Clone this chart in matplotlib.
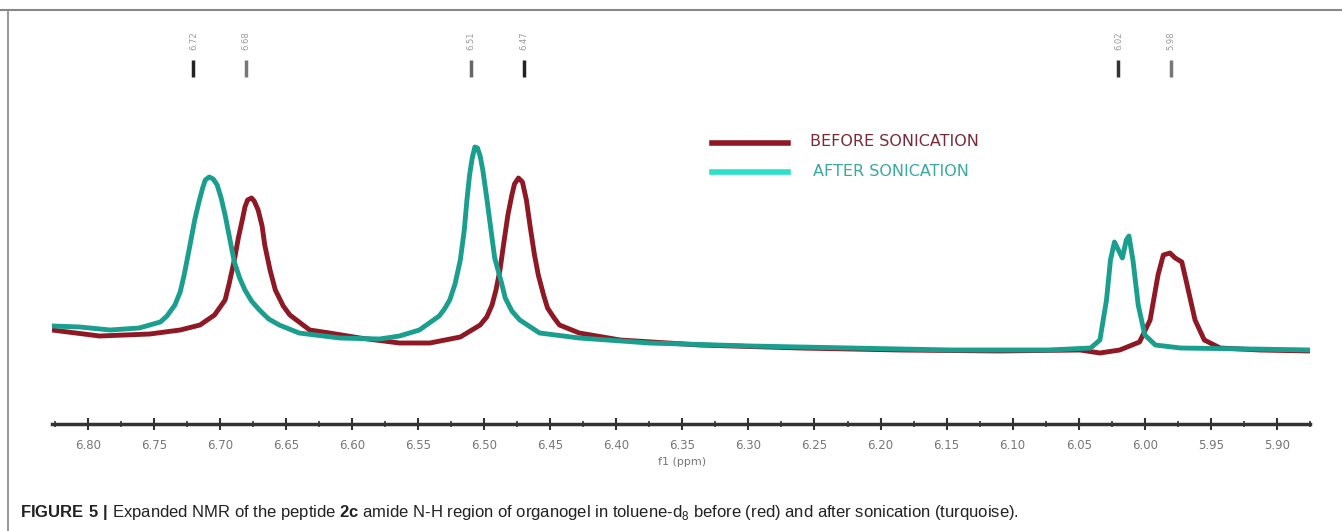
import matplotlib
matplotlib.use("Agg")
import matplotlib.pyplot as plt
from matplotlib.lines import Line2D

# traced spectra (chemical shift in ppm, intensity in arbitrary units)
after_ppm = [6.827, 6.806, 6.783, 6.761, 6.745, 6.740, 6.734, 6.730, 6.727, 6.723,
             6.719, 6.716, 6.713, 6.711, 6.708, 6.705, 6.702, 6.699, 6.696, 6.692,
             6.689, 6.685, 6.681, 6.676, 6.670, 6.663, 6.655, 6.640, 6.609, 6.579,
             6.564, 6.549, 6.534, 6.530, 6.526, 6.522, 6.518, 6.515, 6.513, 6.511,
             6.509, 6.507, 6.505, 6.503, 6.501, 6.498, 6.495, 6.492, 6.487, 6.484,
             6.479, 6.473, 6.458, 6.428, 6.375, 6.299, 6.223, 6.147, 6.072, 6.041,
             6.034, 6.029, 6.026, 6.023, 6.020, 6.017, 6.014, 6.012, 6.009, 6.005,
             6.000, 5.992, 5.973, 5.920, 5.875]
after_int = [24, 23, 20, 22, 28, 34, 45, 58, 75, 102,
             130, 147, 162, 170, 173, 171, 165, 152, 135, 108,
             88, 72, 60, 49, 40, 31, 25, 17, 12, 11,
             14, 20, 34, 41, 50, 66, 90, 120, 150, 175,
             192, 203, 202, 194, 180, 152, 122, 92, 68, 52,
             39, 30, 17, 12, 7, 4, 2, 0, 0, 2,
             10, 50, 90, 108, 100, 92, 110, 114, 90, 45,
             15, 5, 2, 1, 0]

before_ppm = [6.827, 6.791, 6.753, 6.730, 6.715, 6.704, 6.696, 6.693, 6.689, 6.686,
              6.683, 6.681, 6.679, 6.676, 6.674, 6.671, 6.668, 6.666, 6.662, 6.658,
              6.652, 6.647, 6.632, 6.617, 6.594, 6.564, 6.541, 6.518, 6.503, 6.498,
              6.494, 6.491, 6.488, 6.485, 6.482, 6.479, 6.477, 6.474, 6.471, 6.468,
              6.465, 6.462, 6.459, 6.455, 6.452, 6.447, 6.443, 6.428, 6.397, 6.337,
              6.261, 6.185, 6.110, 6.049, 6.034, 6.019, 6.004, 5.996, 5.990, 5.986,
              5.981, 5.977, 5.972, 5.968, 5.962, 5.955, 5.943, 5.913, 5.875]
before_int = [20, 14, 16, 20, 25, 35, 50, 66, 90, 112,
              130, 143, 150, 152, 149, 140, 124, 105, 80, 60,
              44, 35, 20, 17, 12, 7, 7, 13, 25, 33,
              45, 60, 80, 108, 135, 155, 166, 172, 168, 150,
              122, 96, 75, 55, 42, 32, 25, 17, 10, 5,
              2, 0, -1, 0, -3, 0, 8, 30, 75, 95,
              97, 92, 88, 65, 30, 10, 2, 0, -1]

# peak pick labels
peak_ppm = [6.72, 6.68, 6.51, 6.47, 6.02, 5.98]
peak_labels = ["6.72", "6.68", "6.51", "6.47", "6.02", "5.98"]
peak_colors = ["#222222", "#777777", "#666666", "#222222", "#333333", "#777777"]

major_ticks = [6.80, 6.75, 6.70, 6.65, 6.60, 6.55, 6.50, 6.45, 6.40, 6.35,
               6.30, 6.25, 6.20, 6.15, 6.10, 6.05, 6.00, 5.95, 5.90]
minor_ticks = [6.825, 6.775, 6.725, 6.675, 6.625, 6.575, 6.525, 6.475, 6.425, 6.375,
               6.325, 6.275, 6.225, 6.175, 6.125, 6.075, 6.025, 5.975, 5.925, 5.875]

red = "#8e1824"
teal = "#1a9e8e"

fig = plt.figure(figsize=(13.42, 5.31), dpi=100)
ax = fig.add_axes([52 / 1342, 1 - 424 / 531, (1310 - 52) / 1342, (424 - 20) / 531])

ax.plot(before_ppm, before_int, color=red, lw=3.5, solid_joinstyle="round")
ax.plot(after_ppm, after_int, color=teal, lw=3.5, solid_joinstyle="round")

# peak markers at the top
for p, lab, c in zip(peak_ppm, peak_labels, peak_colors):
    ax.plot([p, p], [273, 290], color=c, lw=2.5, solid_capstyle="butt")
    ax.text(p, 309, lab, rotation=90, ha="center", va="center", fontsize=6, color="#999999")

ax.set_xlim(6.827, 5.875)
ax.set_ylim(-74, 330)
for s in ["top", "left", "right"]:
    ax.spines[s].set_visible(False)
ax.spines["bottom"].set_linewidth(2.5)
ax.spines["bottom"].set_color("#333333")
ax.set_yticks([])
ax.set_xticks(major_ticks)
ax.set_xticklabels([f"{t:.2f}" for t in major_ticks])
ax.set_xticks(minor_ticks, minor=True)
ax.tick_params(axis="x", which="major", direction="inout", length=9, width=1.5,
               color="#333333", labelsize=8.5, labelcolor="#777777", pad=6)
ax.tick_params(axis="x", which="minor", direction="inout", length=5, width=1.2, color="#333333")

fig.text(682 / 1342, 1 - 462 / 531, "f1 (ppm)", ha="center", va="center", fontsize=8, color="#777777")

# legend drawn by hand like the original
fig.add_artist(Line2D([712 / 1342, 788 / 1342], [1 - 143 / 531] * 2, transform=fig.transFigure,
                      color=red, lw=4))
fig.add_artist(Line2D([712 / 1342, 788 / 1342], [1 - 172 / 531] * 2, transform=fig.transFigure,
                      color="#2ce0c8", lw=4))
fig.text(810 / 1342, 1 - 142 / 531, "BEFORE SONICATION", ha="left", va="center",
         fontsize=11.5, color="#7a2a36")
fig.text(813 / 1342, 1 - 171 / 531, "AFTER SONICATION", ha="left", va="center",
         fontsize=11.5, color="#3aa8a0")

# frame around the figure
fig.add_artist(Line2D([0, 1], [1 - 10 / 531] * 2, transform=fig.transFigure, color="#888888", lw=1.5))
fig.add_artist(Line2D([8 / 1342] * 2, [0, 1 - 10 / 531], transform=fig.transFigure, color="#888888", lw=1.2))

# caption
plt.rcParams["mathtext.fontset"] = "custom"
plt.rcParams["mathtext.rm"] = "Liberation Sans"
plt.rcParams["mathtext.bf"] = "Liberation Sans:bold"
caption = (r"$\mathbf{FIGURE\ 5\ |}$ Expanded NMR of the peptide $\mathbf{2c}$ amide N-H region "
           r"of organogel in toluene-d$_8$ before (red) and after sonication (turquoise).")
fig.text(20 / 1342, 1 - 512 / 531, caption, ha="left", va="center", fontsize=12,
         family="Liberation Sans", color="#222222")

fig.savefig("out.png", dpi=100)
